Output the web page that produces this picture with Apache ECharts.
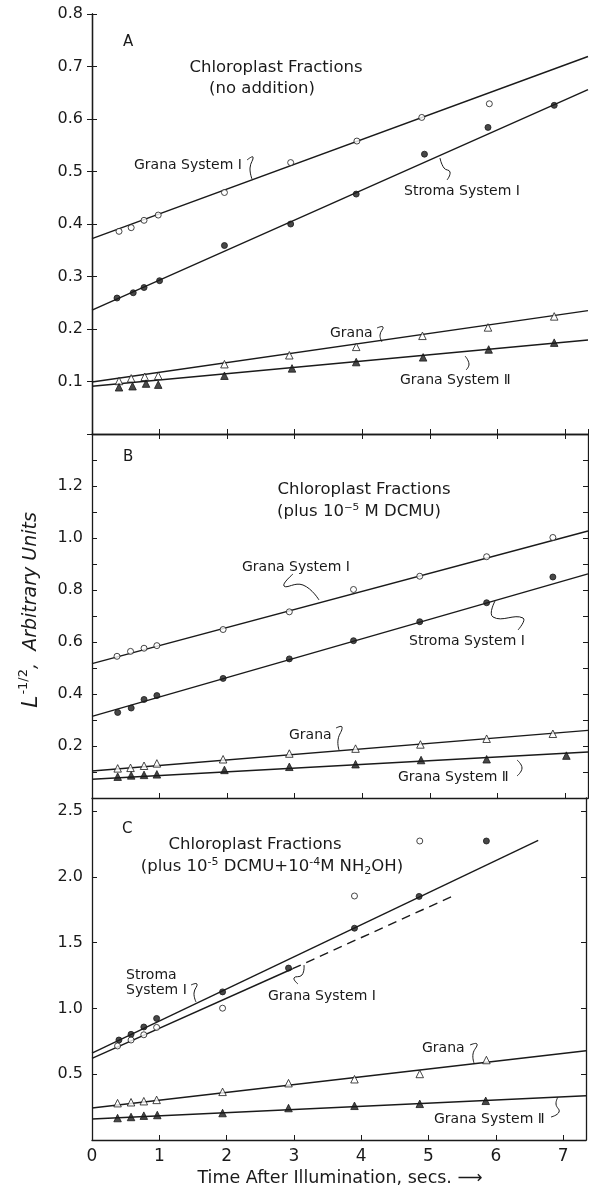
<!DOCTYPE html>
<html>
<head>
<meta charset="utf-8">
<script src="https://cdn.jsdelivr.net/npm/echarts@6/dist/echarts.min.js"></script>
<style>
html,body{margin:0;padding:0;background:#fff;}
#chart{width:589px;height:1193px;}
</style>
</head>
<body>
<div id="chart"></div>
<script>
// time axis (secs) shared by all three panels
var xMax = 7.34;
var xTicks = [0, 1, 2, 3, 4, 5, 6, 7];

// panel A - no addition
var aGranaSys1X = [0.40, 0.58, 0.77, 0.98, 1.96, 2.94, 3.92, 4.88, 5.88];
var aGranaSys1Y = [0.386, 0.393, 0.407, 0.417, 0.460, 0.517, 0.558, 0.603, 0.629];
var aStromaSys1X = [0.37, 0.61, 0.77, 1.00, 1.96, 2.94, 3.91, 4.92, 5.86, 6.84];
var aStromaSys1Y = [0.259, 0.269, 0.279, 0.292, 0.359, 0.400, 0.457, 0.533, 0.584, 0.626];
var aGranaX = [0.40, 0.58, 0.78, 0.98, 1.96, 2.92, 3.91, 4.89, 5.86, 6.84];
var aGranaY = [0.101, 0.106, 0.109, 0.111, 0.133, 0.150, 0.166, 0.187, 0.203, 0.224];
var aGranaSys2X = [0.40, 0.60, 0.80, 0.98, 1.96, 2.96, 3.91, 4.90, 5.87, 6.84];
var aGranaSys2Y = [0.089, 0.091, 0.096, 0.094, 0.111, 0.125, 0.137, 0.146, 0.161, 0.174];
// fitted lines A: [x0, y0, x1, y1]
var aFitGranaSys1 = [0, 0.372, xMax, 0.719];
var aFitStromaSys1 = [0, 0.236, xMax, 0.656];
var aFitGrana = [0, 0.099, xMax, 0.235];
var aFitGranaSys2 = [0, 0.091, xMax, 0.179];

// panel B - plus 10^-5 M DCMU
var bGranaSys1X = [0.37, 0.57, 0.77, 0.96, 1.94, 2.92, 3.87, 4.85, 5.84, 6.82];
var bGranaSys1Y = [0.545, 0.564, 0.576, 0.586, 0.648, 0.716, 0.802, 0.853, 0.928, 1.002];
var bStromaSys1X = [0.38, 0.58, 0.77, 0.96, 1.94, 2.92, 3.87, 4.85, 5.84, 6.82];
var bStromaSys1Y = [0.329, 0.346, 0.379, 0.394, 0.460, 0.535, 0.605, 0.678, 0.751, 0.850];
var bGranaX = [0.38, 0.57, 0.77, 0.96, 1.94, 2.92, 3.90, 4.86, 5.84, 6.82];
var bGranaY = [0.114, 0.116, 0.124, 0.133, 0.149, 0.171, 0.190, 0.206, 0.228, 0.247];
var bGranaSys2X = [0.38, 0.58, 0.77, 0.96, 1.96, 2.92, 3.90, 4.87, 5.84, 7.02];
var bGranaSys2Y = [0.082, 0.087, 0.089, 0.091, 0.108, 0.120, 0.130, 0.146, 0.149, 0.163];
var bFitGranaSys1 = [0, 0.517, xMax, 1.027];
var bFitStromaSys1 = [0, 0.314, xMax, 0.862];
var bFitGrana = [0, 0.104, xMax, 0.260];
var bFitGranaSys2 = [0, 0.072, xMax, 0.177];

// panel C - plus 10^-5 DCMU + 10^-4 M NH2OH
var cStromaSys1X = [0.40, 0.58, 0.77, 0.96, 1.94, 2.92, 3.90, 4.86, 5.86];
var cStromaSys1Y = [0.760, 0.803, 0.859, 0.924, 1.126, 1.307, 1.610, 1.852, 2.273];
var cGranaSys1X = [0.38, 0.58, 0.77, 0.96, 1.94, 3.90, 4.87];
var cGranaSys1Y = [0.715, 0.760, 0.800, 0.856, 1.002, 1.855, 2.273];
var cGranaX = [0.38, 0.58, 0.77, 0.96, 1.94, 2.92, 3.90, 4.87, 5.86];
var cGranaY = [0.280, 0.287, 0.295, 0.305, 0.366, 0.432, 0.462, 0.502, 0.608];
var cGranaSys2X = [0.38, 0.58, 0.77, 0.97, 1.94, 2.92, 3.90, 4.87, 5.85];
var cGranaSys2Y = [0.167, 0.175, 0.185, 0.190, 0.205, 0.243, 0.260, 0.275, 0.298];
var cFitStromaSys1 = [0, 0.660, 6.63, 2.278];
var cFitGranaSys1 = [0, 0.620, 2.98, 1.302];
var cFitGranaSys1Dash = [2.98, 1.302, 5.35, 1.852];
var cFitGrana = [0, 0.243, xMax, 0.678];
var cFitGranaSys2 = [0, 0.160, xMax, 0.336];

var ink = '#1a1a1a';
var font = 'DejaVu Sans';

function zip(xs, ys) {
    var out = [];
    for (var i = 0; i < xs.length; i++) out.push([xs[i], ys[i]]);
    return out;
}
function pts(xs, ys, panel, shape, filled) {
    return {
        type: 'scatter', xAxisIndex: panel, yAxisIndex: panel, silent: true, z: 5,
        symbol: shape, symbolSize: shape == 'triangle' ? 7.5 : 6,
        itemStyle: { color: filled ? ink : '#fff', borderColor: ink, borderWidth: 1 },
        data: zip(xs, ys)
    };
}
function fit(seg, panel, dashed) {
    return {
        type: 'line', xAxisIndex: panel, yAxisIndex: panel, silent: true, z: 3,
        symbol: 'none', animation: false,
        lineStyle: { color: ink, width: 1.4, type: dashed ? [9, 6] : 'solid' },
        data: [[seg[0], seg[1]], [seg[2], seg[3]]]
    };
}

var grids = [
    { left: 92, right: 1, top: 14, height: 420 },
    { left: 92, right: 1, top: 434, height: 364 },
    { left: 92, right: 1, top: 798, height: 342 }
];

function xAxisFor(i, pos, labels) {
    return {
        type: 'value', gridIndex: i, position: pos, min: 0, max: xMax, interval: 1,
        axisLine: { show: true, lineStyle: { color: ink, width: 1.3 } },
        axisTick: { show: true, inside: true, length: 5, lineStyle: { color: ink } },
        splitLine: { show: false },
        axisLabel: {
            show: labels, margin: 8, color: ink, fontFamily: font, fontSize: 17,
            formatter: function (v) { return xTicks.indexOf(v) >= 0 ? String(v) : ''; }
        }
    };
}
var yRanges = [
    { max: 0.8, interval: 0.1, fmt: function (v) { return v > 0.05 ? v.toFixed(1) : ''; } },
    { max: 1.4, interval: 0.1, fmt: function (v) {
        var k = Math.round(v * 10);
        return (k >= 2 && k <= 12 && k % 2 == 0) ? v.toFixed(1) : '';
    } },
    { max: 2.6, interval: 0.5, fmt: function (v) { return (v > 0.1 && v < 2.55) ? v.toFixed(1) : ''; } }
];
function yAxisFor(i, pos) {
    var r = yRanges[i];
    return {
        type: 'value', gridIndex: i, position: pos, min: 0, max: r.max, interval: r.interval,
        axisLine: { show: true, lineStyle: { color: ink, width: 1.3 } },
        axisTick: { show: true, inside: true, length: 5, lineStyle: { color: ink } },
        splitLine: { show: false },
        axisLabel: {
            show: pos == 'left', margin: 9, color: ink, fontFamily: font, fontSize: 16,
            showMaxLabel: true, formatter: r.fmt
        }
    };
}

function txt(x, y, s, size, align) {
    return {
        type: 'text', x: x, y: y, silent: true,
        style: { text: s, fill: ink, font: (size || 14) + 'px "' + font + '"', align: align || 'left', verticalAlign: 'middle' }
    };
}
function hook(points) {
    return {
        type: 'polyline', silent: true,
        shape: { points: points, smooth: 0.5 },
        style: { stroke: ink, lineWidth: 1, fill: null }
    };
}

var labels = [
    // panel A
    txt(123, 42, 'A', 15),
    txt(276, 68, 'Chloroplast Fractions', 16.5, 'center'),
    txt(262, 89, '(no addition)', 16.5, 'center'),
    txt(134, 165, 'Grana System Ⅰ'),
    hook([[247, 160], [253, 157], [250, 168], [252, 179]]),
    txt(404, 191, 'Stroma System Ⅰ'),
    hook([[447, 180], [450, 172], [444, 168], [440, 158]]),
    txt(330, 333, 'Grana'),
    hook([[377, 328], [383, 327], [380, 335], [382, 342]]),
    txt(400, 380, 'Grana System Ⅱ'),
    hook([[466, 370], [469, 364], [465, 356]]),
    // panel B
    txt(123, 457, 'B', 15),
    txt(364, 490, 'Chloroplast Fractions', 16.5, 'center'),
    txt(359, 512, '(plus 10⁻⁵ M DCMU)', 16.5, 'center'),
    txt(242, 567, 'Grana System Ⅰ'),
    hook([[293, 574], [284, 586], [303, 585], [319, 600]]),
    txt(409, 641, 'Stroma System Ⅰ'),
    hook([[518, 630], [523, 618], [493, 617], [495, 601]]),
    txt(289, 735, 'Grana'),
    hook([[336, 728], [342, 727], [338, 740], [339, 750]]),
    txt(398, 777, 'Grana System Ⅱ'),
    hook([[517, 776], [522, 768], [517, 760]]),
    // panel C
    txt(122, 829, 'C', 15),
    txt(255, 845, 'Chloroplast Fractions', 16.5, 'center'),
    {
        type: 'text', x: 272, y: 867, silent: true,
        style: {
            text: '(plus 10{s|-5} DCMU+10{s|-4}M NH{b|2}OH)',
            fill: ink, font: '16.5px "' + font + '"', align: 'center', verticalAlign: 'middle',
            rich: {
                s: { fontSize: 11, fontFamily: font, fill: ink, padding: [0, 0, 10, 0] },
                b: { fontSize: 11, fontFamily: font, fill: ink, padding: [9, 0, 0, 0] }
            }
        }
    },
    txt(126, 975, 'Stroma'),
    txt(126, 990, 'System Ⅰ'),
    hook([[191, 985], [197, 984], [194, 993], [196, 1002]]),
    txt(268, 996, 'Grana System Ⅰ'),
    hook([[298, 984], [294, 978], [302, 975], [304, 965]]),
    txt(422, 1048, 'Grana'),
    hook([[470, 1045], [477, 1044], [473, 1054], [474, 1063]]),
    txt(434, 1119, 'Grana System Ⅱ'),
    hook([[551, 1117], [559, 1112], [556, 1104], [558, 1097]]),
    // axis titles
    txt(340, 1178, 'Time After Illumination, secs. ⟶', 17.5, 'center'),
    {
        type: 'text', x: 31, y: 610, rotation: Math.PI / 2, silent: true,
        style: {
            text: '{l|L}{s|-1/2}{n|,  Arbitrary Units}',
            align: 'center', verticalAlign: 'middle', fill: ink,
            rich: {
                l: { fontSize: 22, fontStyle: 'italic', fontFamily: font, fill: ink },
                s: { fontSize: 13, fontFamily: font, fill: ink, padding: [0, 0, 14, 1] },
                n: { fontSize: 19, fontStyle: 'italic', fontFamily: font, fill: ink }
            }
        }
    }
];

var option = {
    backgroundColor: '#fff',
    animation: false,
    grid: grids,
    xAxis: [
        xAxisFor(0, 'bottom', false),
        xAxisFor(1, 'bottom', false),
        xAxisFor(2, 'bottom', true),
        xAxisFor(0, 'top', false)
    ],
    yAxis: [
        yAxisFor(0, 'left'), yAxisFor(1, 'left'), yAxisFor(2, 'left'),
        yAxisFor(0, 'right'), yAxisFor(1, 'right'), yAxisFor(2, 'right')
    ],
    series: [
        fit(aFitGranaSys1, 0), fit(aFitStromaSys1, 0), fit(aFitGrana, 0), fit(aFitGranaSys2, 0),
        pts(aGranaSys1X, aGranaSys1Y, 0, 'circle', false),
        pts(aStromaSys1X, aStromaSys1Y, 0, 'circle', true),
        pts(aGranaX, aGranaY, 0, 'triangle', false),
        pts(aGranaSys2X, aGranaSys2Y, 0, 'triangle', true),

        fit(bFitGranaSys1, 1), fit(bFitStromaSys1, 1), fit(bFitGrana, 1), fit(bFitGranaSys2, 1),
        pts(bGranaSys1X, bGranaSys1Y, 1, 'circle', false),
        pts(bStromaSys1X, bStromaSys1Y, 1, 'circle', true),
        pts(bGranaX, bGranaY, 1, 'triangle', false),
        pts(bGranaSys2X, bGranaSys2Y, 1, 'triangle', true),

        fit(cFitStromaSys1, 2), fit(cFitGranaSys1, 2), fit(cFitGranaSys1Dash, 2, true),
        fit(cFitGrana, 2), fit(cFitGranaSys2, 2),
        pts(cStromaSys1X, cStromaSys1Y, 2, 'circle', true),
        pts(cGranaSys1X, cGranaSys1Y, 2, 'circle', false),
        pts(cGranaX, cGranaY, 2, 'triangle', false),
        pts(cGranaSys2X, cGranaSys2Y, 2, 'triangle', true)
    ],
    graphic: labels
};

var myChart = echarts.init(document.getElementById('chart'));
myChart.setOption(option);
</script>
</body>
</html>
